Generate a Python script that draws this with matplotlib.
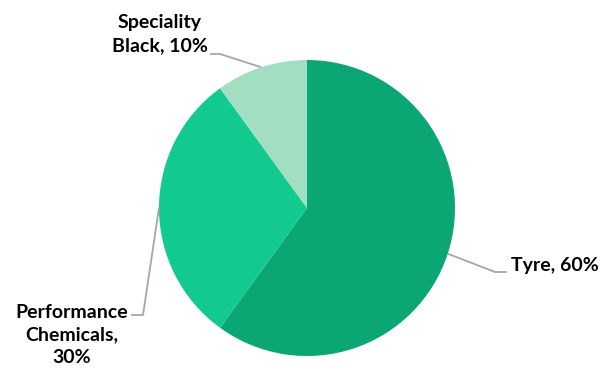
import numpy as np
import matplotlib
matplotlib.use("Agg")
import matplotlib.pyplot as plt

labels = ["Tyre", "Performance\nChemicals", "Speciality\nBlack"]
shares = [60, 30, 10]
colors = ["#0AA674", "#12C98F", "#A2DFC2"]

plt.rcParams["font.family"] = ["Lato", "DejaVu Sans"]

W, H = 600, 368
fig = plt.figure(figsize=(W / 100, H / 100), dpi=100)
ax = fig.add_axes([0, 0, 1, 1])

cx, cy, r = 307, H - 208, 148
wedges, _ = ax.pie(shares, colors=colors, startangle=90, counterclock=False,
                   center=(cx, cy), radius=r, frame=True,
                   wedgeprops=dict(linewidth=0))
ax.set_xlim(0, W)
ax.set_ylim(0, H)
ax.set_aspect("equal")
ax.axis("off")

# label text position, separator, knee and end of the leader line
layout = [
    dict(text=(511, H - 266), ha="left", sep=", ",
         knee=(495, H - 272), end=(507, H - 272)),
    dict(text=(72, H - 335), ha="center", sep=",\n",
         knee=(143, H - 315), end=(131, H - 315)),
    dict(text=(160, H - 34), ha="center", sep=", ",
         knee=(220, H - 54), end=(210, H - 54)),
]

for w, lab, val, lo in zip(wedges, labels, shares, layout):
    ang = np.deg2rad((w.theta1 + w.theta2) / 2)
    px, py = cx + r * np.cos(ang), cy + r * np.sin(ang)
    kx, ky = lo["knee"]
    ex, ey = lo["end"]
    ax.plot([px, kx, ex], [py, ky, ey], color="#A6A6A6", lw=1.3,
            solid_capstyle="butt")
    ax.text(*lo["text"], f"{lab}{lo['sep']}{val}%", ha=lo["ha"], va="center",
            fontsize=14, fontweight="bold", color="#000000",
            linespacing=1.42)

fig.savefig("out.png", dpi=100)
